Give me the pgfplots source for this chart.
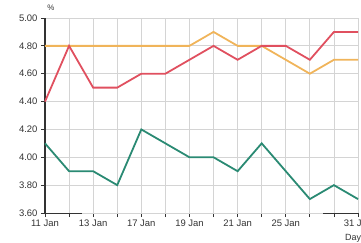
\documentclass[border=0pt]{standalone}
\usepackage{pgfplots}
\pgfplotsset{compat=1.18}
\usepackage{fontspec}
\setmainfont{Liberation Sans}
\definecolor{cred}{HTML}{E0505F}
\definecolor{corange}{HTML}{F0B45A}
\definecolor{cgreen}{HTML}{2A8A73}
\definecolor{cgrid}{HTML}{D4D4D4}
\definecolor{caxis}{HTML}{333333}
\begin{document}
\begin{tikzpicture}
\clip (0,0) rectangle (361bp,243bp);
\useasboundingbox (0,0) rectangle (361bp,243bp);
\begin{axis}[
  at={(45bp,30bp)}, anchor=south west,
  scale only axis, width=313bp, height=195bp,
  xmin=0, xmax=13, ymin=3.6, ymax=5.0,
  clip=false,
  axis x line=bottom, axis y line=left,
  x axis line style={cgrid, line width=0.8pt, -},
  y axis line style={caxis, line width=1.1pt, -},
  xtick={0,...,13},
  xticklabels={11 Jan,,13 Jan,,17 Jan,,19 Jan,,21 Jan,,25 Jan,,,31 Jan},
  ytick={3.6,3.8,...,5.01},
  yticklabel style={/pgf/number format/.cd, fixed, fixed zerofill, precision=2},
  /pgf/number format/assume math mode=true,
  tick label style={font=\fontsize{9.5}{10}\selectfont, text=caxis},
  grid=major, grid style={cgrid, line width=0.8pt},
  tick style={caxis, line width=0.8pt},
  tick align=outside, major tick length=4bp,
  xticklabel style={yshift=1bp},
]
\draw[caxis, line width=0.9pt] (axis cs:0,3.6) -- (axis cs:1.55,3.6);
\draw[caxis, line width=0.9pt] (axis cs:11.55,3.6) -- (axis cs:13,3.6);
\addplot[corange, line width=1.8pt, mark=none] coordinates {
(0,4.8)(1,4.8)(2,4.8)(3,4.8)(4,4.8)(5,4.8)(6,4.8)(7,4.9)(8,4.8)(9,4.8)(10,4.7)(11,4.6)(12,4.7)(13,4.7)};
\addplot[cred, line width=1.8pt, mark=none] coordinates {
(0,4.4)(1,4.8)(2,4.5)(3,4.5)(4,4.6)(5,4.6)(6,4.7)(7,4.8)(8,4.7)(9,4.8)(10,4.8)(11,4.7)(12,4.9)(13,4.9)};
\addplot[cgreen, line width=1.8pt, mark=none] coordinates {
(0,4.1)(1,3.9)(2,3.9)(3,3.8)(4,4.2)(5,4.1)(6,4.0)(7,4.0)(8,3.9)(9,4.1)(10,3.9)(11,3.7)(12,3.8)(13,3.7)};
\node[font=\fontsize{8}{9}\selectfont, text=caxis] at (axis cs:0.25,5.075) {\%};
\node[font=\fontsize{9}{10}\selectfont, text=caxis] at (axis cs:12.8,3.42) {Day};
\end{axis}
\end{tikzpicture}
\end{document}
